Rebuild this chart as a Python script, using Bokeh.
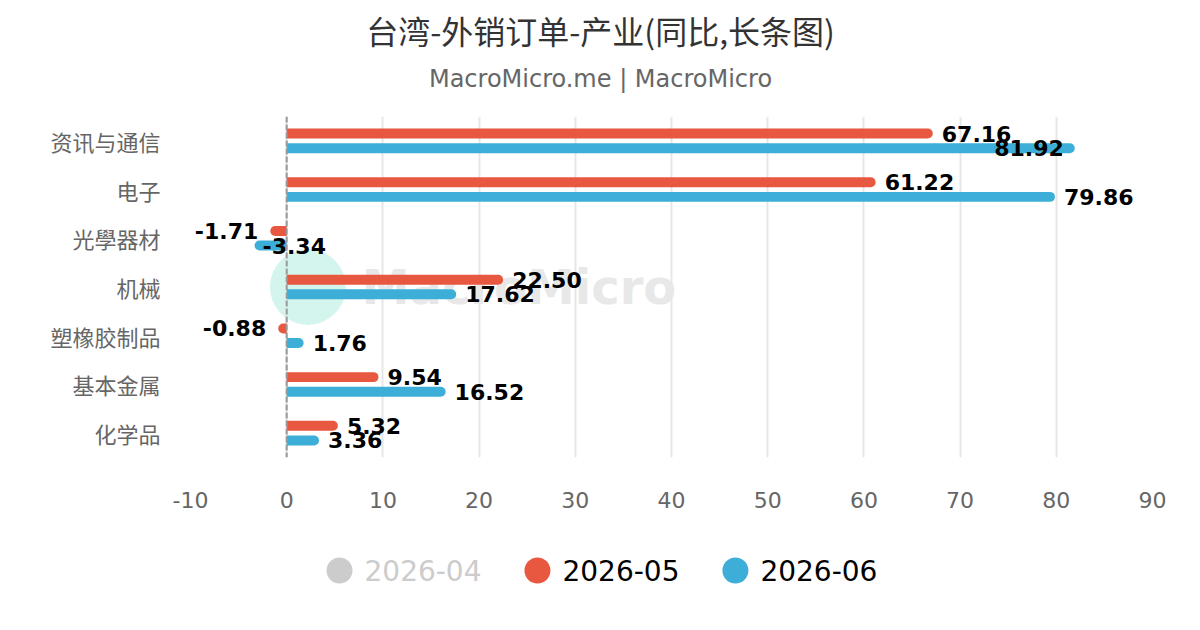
from bokeh.plotting import figure
from bokeh.layouts import column
from bokeh.models import (FactorRange, Range1d, Span, ColumnDataSource, FixedTicker)
from bokeh.transform import dodge
from bokeh.core.properties import value
from bokeh.embed import file_html
from bokeh.resources import INLINE

# ---------------- data ----------------
categories = ["资讯与通信", "电子", "光學器材", "机械", "塑橡胶制品", "基本金属", "化学品"]
series_names = ["2026-04", "2026-05", "2026-06"]
series_hidden = [True, False, False]
may_values = [67.16, 61.22, -1.71, 22.50, -0.88, 9.54, 5.32]
jun_values = [81.92, 79.86, -3.34, 17.62, 1.76, 16.52, 3.36]
x_ticks = [-10, 0, 10, 20, 30, 40, 50, 60, 70, 80, 90]
title_text = "台湾-外销订单-产业(同比,长条图)"
subtitle_text = "MacroMicro.me | MacroMicro"

# ---------------- layout / style ----------------
W = 1184
H_HEAD, H_MAIN, H_LEG = 100, 430, 84
BL, BR, BT, BB = 190, 32, 16, 73
X0, X1 = x_ticks[0], x_ticks[-1]
FRAME_W = W - BL - BR
PPU = FRAME_W / (X1 - X0)
RED = "#e8573f"
BLUE = "#3caed8"
GREY = "#cccccc"
CJK = "Noto Sans CJK SC"
LAT = "DejaVu Sans"
LABEL_FS = 22
PAGE_CX = 600


def blank_fig(h):
    # x range in page pixels over the (column-aligned) frame
    f = figure(width=W, height=h, x_range=Range1d(BL, W - BR), y_range=Range1d(0, h),
               output_backend="svg", toolbar_location=None,
               x_axis_type=None, y_axis_type=None,
               min_border_left=BL, min_border_right=BR,
               min_border_top=0, min_border_bottom=0)
    f.outline_line_color = None
    f.xgrid.grid_line_color = None
    f.ygrid.grid_line_color = None
    return f


# ---------------- header ----------------
head = blank_fig(H_HEAD)
head.text(x=[PAGE_CX], y=[H_HEAD - 29], text=[title_text], text_font=value(CJK),
          text_font_size="32px", text_color="#333333",
          text_align="center", text_baseline="middle")
head.text(x=[PAGE_CX], y=[H_HEAD - 78], text=[subtitle_text], text_font=value(LAT),
          text_font_size="24px", text_color="#666666",
          text_align="center", text_baseline="middle")

# ---------------- main plot ----------------
p = figure(width=W, height=H_MAIN,
           y_range=FactorRange(factors=categories[::-1]),
           x_range=Range1d(X0, X1),
           output_backend="svg", toolbar_location=None,
           min_border_left=BL, min_border_right=BR,
           min_border_top=BT, min_border_bottom=BB)
p.outline_line_color = None
p.background_fill_color = "white"

# watermark
p.scatter(x=[2.2], y=["机械"], size=76, color="#d4f5ed", line_color=None)
p.text(x=[7.8], y=["机械"], text=["MacroMicro"], text_font=value(LAT),
       text_font_style="bold", text_font_size="48px", text_color="#e8e8e8",
       text_baseline="middle", text_align="left")

# grid / axes
p.xgrid.ticker = FixedTicker(ticks=x_ticks)
p.xgrid.grid_line_color = "#e6e6e6"
p.xgrid.grid_line_width = 2
p.ygrid.grid_line_color = None

p.xaxis.ticker = FixedTicker(ticks=x_ticks)
p.xaxis.major_label_overrides = {t: str(t) for t in x_ticks}
p.xaxis.axis_line_color = None
p.xaxis.major_tick_line_color = None
p.xaxis.minor_tick_line_color = None
p.xaxis.major_tick_out = 0
p.xaxis.major_label_standoff = 34
p.xaxis.major_label_text_font = LAT
p.xaxis.major_label_text_font_size = "22px"
p.xaxis.major_label_text_color = "#666666"

p.yaxis.axis_line_color = None
p.yaxis.major_tick_line_color = None
p.yaxis.minor_tick_line_color = None
p.yaxis.major_tick_out = 0
p.yaxis.major_label_standoff = 30
p.yaxis.major_label_text_font = CJK
p.yaxis.major_label_text_font_size = "22px"
p.yaxis.major_label_text_color = "#666666"


def text_w(s):
    w = {".": 0.38, "-": 0.415}
    return sum(w.get(c, 0.696) for c in s) * LABEL_FS


def add_series(vals, offset, color):
    pos = dict(cat=[], v=[])
    neg = dict(cat=[], v=[])
    labs = {"left": dict(cat=[], v=[], t=[], off=[]),
            "right": dict(cat=[], v=[], t=[], off=[])}
    for c, v in zip(categories, vals):
        d = pos if v >= 0 else neg
        d["cat"].append(c)
        d["v"].append(v)
        t = f"{v:.2f}"
        px = (v - X0) * PPU
        w = text_w(t)
        if v >= 0:
            if px + 9 + w <= FRAME_W:
                al, off = "left", 9
            else:
                al, off = "right", -11
        else:
            if px - 12 - w >= 0:
                al, off = "right", -12
            else:
                al, off = "left", 8
        L = labs[al]
        L["cat"].append(c); L["v"].append(v); L["t"].append(t); L["off"].append(off)
    ydg = dodge("cat", offset, range=p.y_range)
    p.hbar(y=ydg, left=0, right="v", height=0.205, source=ColumnDataSource(pos),
           fill_color=color, line_color=None, border_radius=(0, 5, 5, 0))
    p.hbar(y=ydg, left=0, right="v", height=0.205, source=ColumnDataSource(neg),
           fill_color=color, line_color=None, border_radius=(5, 0, 0, 5))
    return labs, ydg


labs_may, y_may = add_series(may_values, 0.15, RED)
labs_jun, y_jun = add_series(jun_values, -0.15, BLUE)

zero = Span(location=0, dimension="height", line_color="#999999",
            line_dash="6 2", line_width=2)
p.add_layout(zero)

for labs, ydg in ((labs_may, y_may), (labs_jun, y_jun)):
    for al, L in labs.items():
        if not L["cat"]:
            continue
        p.text(x="v", y=ydg, text="t", x_offset="off",
               source=ColumnDataSource(L), text_align=al,
               text_baseline="middle", text_font=value(LAT),
               text_font_style="bold", text_font_size=f"{LABEL_FS}px",
               text_color="black")

# ---------------- legend ----------------
leg = blank_fig(H_LEG)
LEG_FS = 28
LEG_Y = H_LEG - 40
DOT = 26
series_colors = [GREY, RED, BLUE]
cx, tx, txt_cols, x = [], [], [], 326
for name, hid in zip(series_names, series_hidden):
    cx.append(x + DOT / 2)
    tx.append(x + DOT + 12)
    txt_cols.append(GREY if hid else "black")
    w = (sum(0.361 if ch == "-" else 0.636 for ch in name)) * LEG_FS
    x = x + DOT + 12 + w + 43
leg.scatter(x=cx, y=[LEG_Y] * 3, size=DOT, color=series_colors, line_color=None)
leg.text(x=tx, y=[LEG_Y] * 3, text=series_names, text_color=txt_cols,
         text_font=value(LAT), text_font_size=f"{LEG_FS}px",
         text_align="left", text_baseline="middle")

open("out.html", "w").write(file_html(column(head, p, leg, spacing=0), INLINE))
